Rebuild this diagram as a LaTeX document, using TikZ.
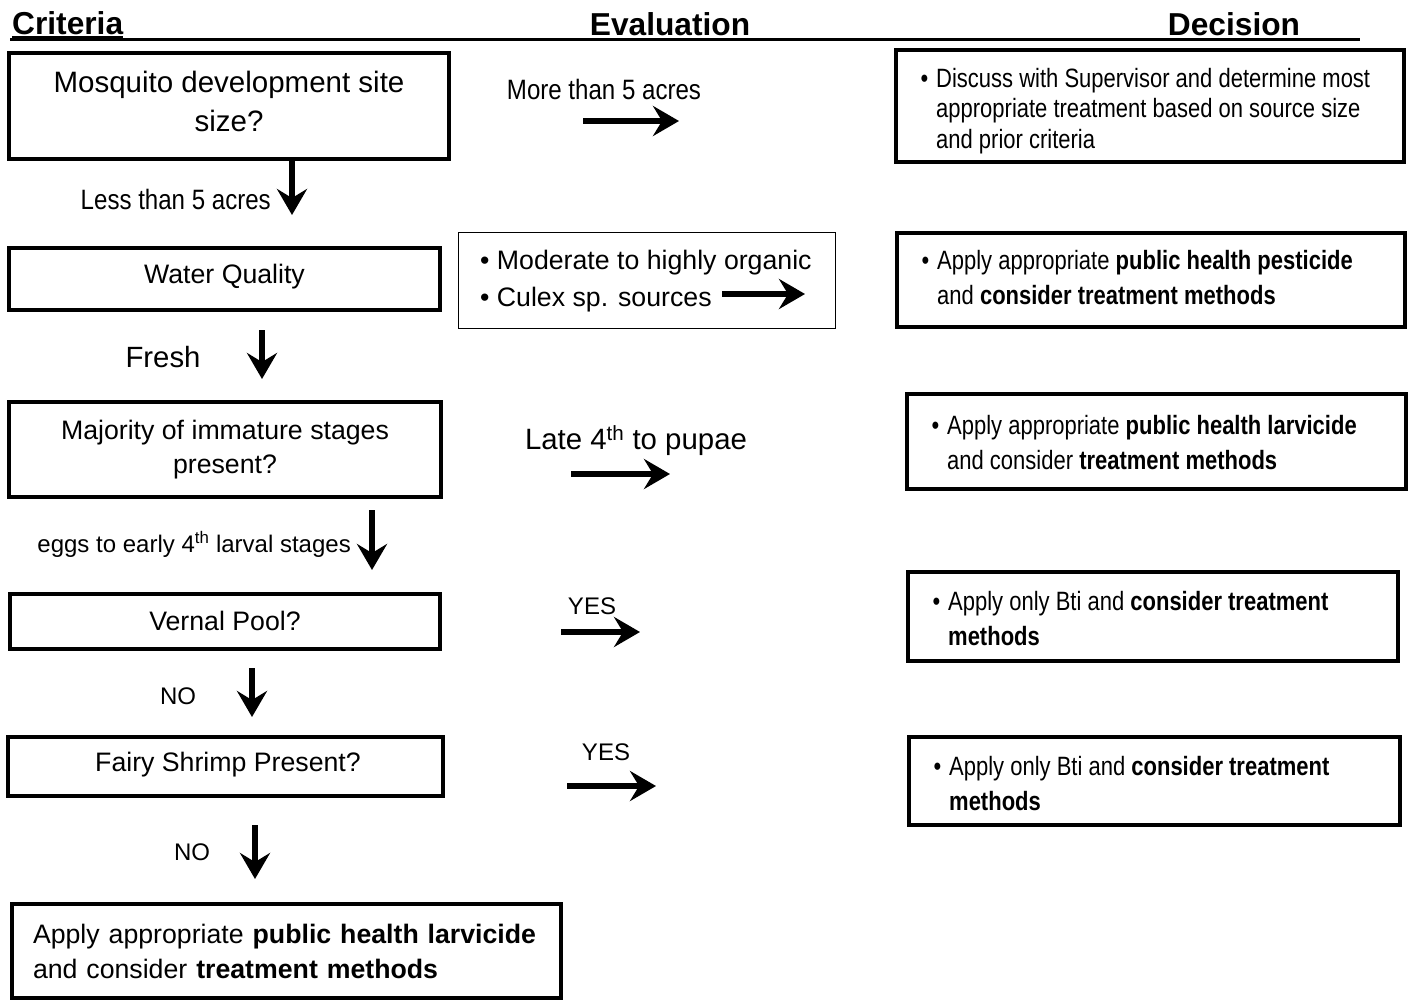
\documentclass[tikz,border=0pt]{standalone}
\usepackage{fontspec}
\setmainfont{Liberation Sans}
\newfontfamily\narrowfont[FakeStretch=0.83]{Liberation Sans}
\newfontfamily\labelfont[FakeStretch=0.86]{Liberation Sans}
\usetikzlibrary{arrows.meta}

\tikzset{
  critbox/.style={draw, line width=4pt, inner sep=0pt, align=center,
    font=\fontsize{26.7}{34}\selectfont},
  decbox/.style={draw, line width=4pt, inner sep=0pt},
  dectext/.style={inner sep=0pt, anchor=west, align=left,
    font=\narrowfont\fontsize{26.5}{35}\selectfont},
  evalbox/.style={draw, line width=1.2pt, inner sep=0pt},
  lbl/.style={inner sep=0pt, font=\fontsize{24}{28}\selectfont},
  nlbl/.style={inner sep=0pt, font=\labelfont\fontsize{28}{32}\selectfont},
  head/.style={inner sep=0pt, font=\bfseries\fontsize{31.7}{36}\selectfont},
  arr/.style={line width=5.5pt, -{Stealth[length=26pt,width=30pt,inset=9pt]}},
}
\newcommand{\bul}{\llap{\textbullet\hspace{8pt}}}

\begin{document}
\begin{tikzpicture}[x=1pt, y=-1pt]
\useasboundingbox (0,0) rectangle (1412,1002);

% column headings
\node[head, anchor=west] (hcrit) at (12,23) {Criteria};
\node[head] (heval) at (670,24) {Evaluation};
\node[head] (hdec) at (1234,24) {Decision};
\coordinate (rulel) at (10,39.5);
\coordinate (ruler) at (1360,39.5);
\draw[line width=2.5pt] (rulel) -- (ruler);
\draw[line width=3.5pt] (hcrit.south west |- 0,38) -- (hcrit.south east |- 0,38);

% criteria column
\node[critbox, minimum width=440, minimum height=106] (b1) at (229,106) {};
\node[inner sep=0pt, align=center, font=\fontsize{29.5}{39}\selectfont]
  (b1t) at (229,101.5) {Mosquito development site\\size?};
\node[critbox, minimum width=431, minimum height=62] (b2) at (224.5,279) {};
\node[inner sep=0pt, font=\fontsize{26.7}{34}\selectfont] (b2t) at (224.5,276.5) {Water Quality};
\node[critbox, minimum width=432, minimum height=95] (b3) at (225,449.5)
  {Majority of immature stages\\present?};
\node[critbox, minimum width=430, minimum height=55] (b4) at (225,621.5) {};
\node[inner sep=0pt, font=\fontsize{26.7}{34}\selectfont] (b4t) at (225,620.5) {Vernal Pool?};
\node[critbox, minimum width=435, minimum height=59] (b5) at (225.5,766.5) {};
\node[inner sep=0pt, font=\fontsize{26.7}{34}\selectfont] (b5t) at (228,765) {Fairy Shrimp Present?};
\node[critbox, minimum width=549, minimum height=94, align=left, text width=507,
  font=\fontsize{26.7}{35}\selectfont] (b6) at (286.5,951)
  {Apply appropriate \textbf{public health larvicide}\\and consider \textbf{treatment methods}};

% downward arrows between criteria
\coordinate (d1s) at (292,161);  \coordinate (d1e) at (292,215);
\coordinate (d2s) at (262,330);  \coordinate (d2e) at (262,379);
\coordinate (d3s) at (372,510);  \coordinate (d3e) at (372,570);
\coordinate (d4s) at (252,668);  \coordinate (d4e) at (252,717);
\coordinate (d5s) at (255,825);  \coordinate (d5e) at (255,879);
\draw[arr] (d1s) -- (d1e);
\draw[arr] (d2s) -- (d2e);
\draw[arr] (d3s) -- (d3e);
\draw[arr] (d4s) -- (d4e);
\draw[arr] (d5s) -- (d5e);

\node[nlbl, anchor=east] (l1) at (271,199) {Less than 5 acres};
\node[inner sep=0pt, font=\fontsize{29.3}{34}\selectfont] (l2) at (163,357) {Fresh};
\node[lbl, anchor=east] (l3) at (351,544) {eggs to early 4\textsuperscript{th} larval stages};
\node[lbl] (l4) at (178,696) {NO};
\node[lbl] (l5) at (192,852) {NO};

% evaluation column
\node[evalbox, minimum width=377, minimum height=96] (ev) at (647,280.5) {};
\node[inner sep=0pt, anchor=west, align=left, font=\fontsize{26.7}{37}\selectfont]
  (evt) at (480,281) {\textbullet\ Moderate to highly organic\\\textbullet\ Culex sp. sources};

\node[nlbl] (e1) at (604,89) {More than 5 acres};
\node[inner sep=0pt, font=\fontsize{29.4}{34}\selectfont] (e3) at (636,441) {Late 4\textsuperscript{th} to pupae};
\node[lbl] (e4) at (592,606) {YES};
\node[lbl] (e5) at (606,752) {YES};

\coordinate (r1s) at (583,121); \coordinate (r1e) at (679,121);
\coordinate (r2s) at (722,294); \coordinate (r2e) at (805,294);
\coordinate (r3s) at (571,474); \coordinate (r3e) at (670,474);
\coordinate (r4s) at (561,632); \coordinate (r4e) at (640,632);
\coordinate (r5s) at (567,786); \coordinate (r5e) at (656,786);
\draw[arr] (r1s) -- (r1e);
\draw[arr] (r2s) -- (r2e);
\draw[arr] (r3s) -- (r3e);
\draw[arr] (r4s) -- (r4e);
\draw[arr] (r5s) -- (r5e);

% decision column
\node[decbox, minimum width=508, minimum height=112] (c1) at (1150,106) {};
\node[dectext, font=\narrowfont\fontsize{26.5}{30.5}\selectfont] (c1t) at (936,111)
  {\bul Discuss with Supervisor and determine most\\appropriate treatment based on source size\\and prior criteria};
\node[decbox, minimum width=508, minimum height=94] (c2) at (1151,280) {};
\node[dectext] (c2t) at (937,277.5)
  {\bul Apply appropriate \textbf{public health pesticide}\\and \textbf{consider treatment methods}};
\node[decbox, minimum width=499, minimum height=95] (c3) at (1156.5,441.5) {};
\node[dectext] (c3t) at (947,443)
  {\bul Apply appropriate \textbf{public health larvicide}\\and consider \textbf{treatment methods}};
\node[decbox, minimum width=490, minimum height=89] (c4) at (1153,616.5) {};
\node[dectext] (c4t) at (948,619)
  {\bul Apply only Bti and \textbf{consider treatment}\\\textbf{methods}};
\node[decbox, minimum width=491, minimum height=88] (c5) at (1154.5,781) {};
\node[dectext] (c5t) at (949,784)
  {\bul Apply only Bti and \textbf{consider treatment}\\\textbf{methods}};
\end{tikzpicture}
\end{document}
